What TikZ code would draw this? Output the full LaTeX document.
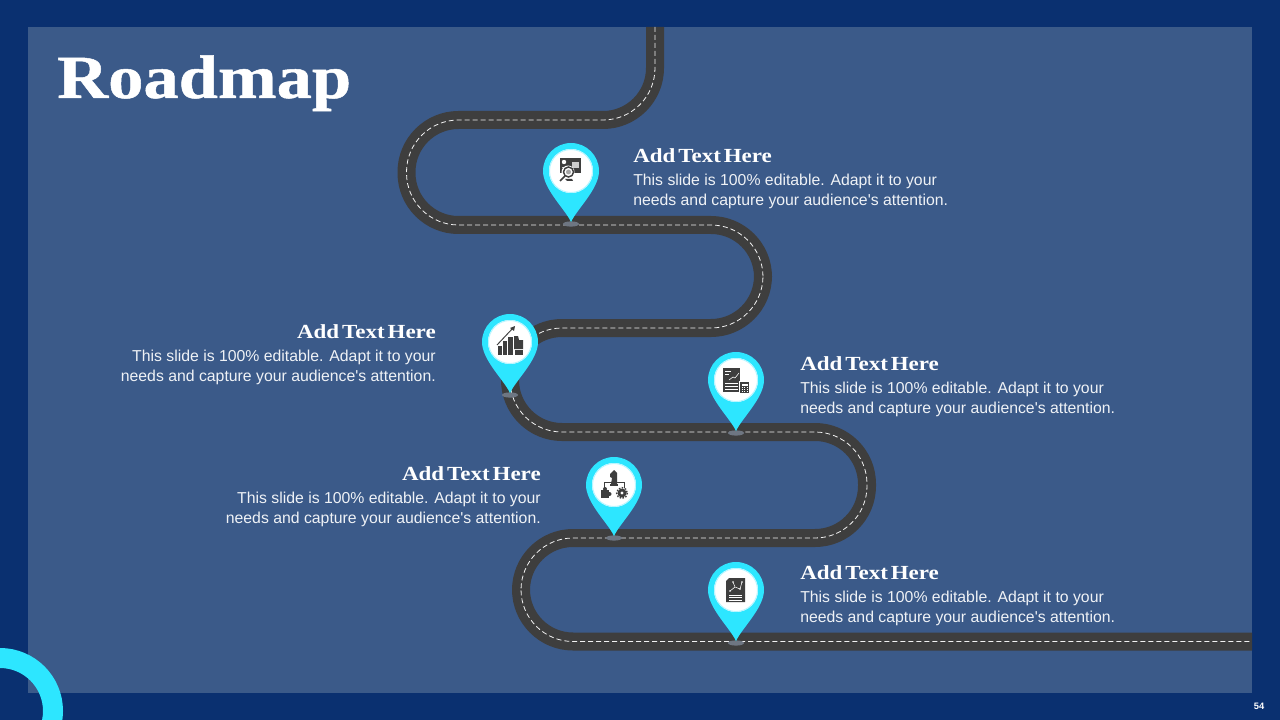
\documentclass[tikz,border=0pt]{standalone}
\usepackage{fontspec}
\setmainfont{Liberation Sans}
\newfontfamily\headfont{Liberation Serif}[FakeStretch=1.15, WordSpace=0.5]
\newfontfamily\titlefont{Liberation Serif}[FakeStretch=1.15, BoldFeatures={FakeBold=0.8}]
\usepackage{xcolor}
\usetikzlibrary{positioning}
\definecolor{frame}{HTML}{0A3070}
\definecolor{panel}{HTML}{3B5A89}
\definecolor{marker}{HTML}{2DE6FF}
\definecolor{asphalt}{HTML}{3E3E3E}
\tikzset{
  road/.style={draw=asphalt, line width=13.5pt, rounded corners=39pt},
  lane/.style={draw=white!90!gray, line width=0.6pt, rounded corners=39pt, dash pattern=on 3.75pt off 2.25pt},
  title/.style={font=\titlefont\bfseries\fontsize{46}{50}\selectfont, text=white, inner sep=0pt},
  headtxt/.style={font=\headfont\bfseries\fontsize{15}{18}\selectfont, text=white, inner sep=0pt},
  bodyleft/.style={font=\fontsize{11.85}{15}\selectfont, text=white!92!panel, align=left, inner sep=0pt},
  bodyright/.style={font=\fontsize{11.85}{15}\selectfont, text=white!92!panel, align=right, inner sep=0pt},
  icon/.style={fill=asphalt, draw=none},
  iconlight/.style={fill=white, draw=none},
  iconline/.style={draw=asphalt, line width=0.6pt},
  pinmark/.pic={
    \fill[gray!75!panel] (0,53) ellipse[x radius=8, y radius=2.6];
    \fill[marker] (0,51) .. controls (-6,38) and (-28,18) .. (-28,0) arc[start angle=180, end angle=360, radius=28] .. controls (28,18) and (6,38) .. (0,51) -- cycle;
    \fill[white] (0,0) circle[radius=22];
    \draw[marker!35!white, line width=0.7pt] (0,0) circle[radius=21.5];
  },
  iconboard/.pic={
    \fill[icon] (-11,-13) rectangle (10,2);
    \fill[iconlight] (-7,-9) circle[radius=2.2];
    \fill[gray!40] (1,-9) rectangle (8,-3);
    \fill[gray!40] (-9,-4) rectangle (-1,-3);
    \fill[white] (-3,1) circle[radius=6.5];
    \draw[asphalt, line width=1.1pt] (-2.5,1) circle[radius=5];
    \fill[gray!70] (-2.5,1) circle[radius=2.5];
    \draw[asphalt, line width=1.3pt] (-6,5) -- (-11,10);
    \fill[icon] (-6,8) -- (1,8) -- (2,10) -- (-4,10) -- cycle;
  },
  iconbars/.pic={
    \fill[icon] (-12,4) rectangle (-8,13);
    \fill[icon] (-7,-1) rectangle (-3,13);
    \fill[icon] (-2,-5) rectangle (3,13);
    \fill[icon] (4,-6) -- (8,-6) -- (9,-2) -- (13,-2) -- (13,7) -- (4,7) -- cycle;
    \fill[icon] (5,8) rectangle (13,13);
    \draw[asphalt, line width=0.7pt] (-13,3) -- (3,-14);
    \fill[icon] (5,-16) -- (0,-14) -- (4,-11) -- cycle;
  },
  iconcalc/.pic={
    \fill[icon] (-13,-12) rectangle (4,12);
    \fill[iconlight] (-11,-9) rectangle (-5,-8);
    \fill[iconlight] (-11,-6) rectangle (-7,-5);
    \draw[white, line width=0.4pt] (-7,0) -- (-3,-3) -- (-1,-2) -- (3,-7);
    \draw[white, line width=0.5pt] (-11,3) -- (2,3) (-11,6) -- (2,6) (-11,9) -- (2,9);
    \fill[white] (3,1) rectangle (14,14);
    \fill[icon] (4,2) rectangle (13,13);
    \fill[iconlight] (5.5,3.5) rectangle (11.5,5.5);
    \foreach \cx in {5.5,8,10.5}
      \foreach \cy in {7,9.2,11.2}
        \fill[iconlight] (\cx,\cy) rectangle ++(1.2,1.2);
  },
  iconchess/.pic={
    \draw[iconline] (-10,3) -- (-10,-3) -- (10,-3) -- (10,3);
    \fill[icon] (-4,-1) rectangle (4,1);
    \fill[icon] (-3,-1) -- (-2,-7) -- (-4,-8) -- (-4,-11) -- (0,-15) -- (3,-12) -- (3,-1) -- cycle;
    \fill[icon] (-13,5) rectangle (-5,13);
    \fill[icon] (-9,4) circle[radius=2];
    \fill[icon] (-4.5,9) circle[radius=2];
    \fill[icon] (8,8) circle[radius=4.5];
    \draw[asphalt, line width=1pt, dash pattern=on 1.2pt off 1.1pt] (8,8) circle[radius=5.4];
    \fill[white] (8,8) circle[radius=1.7];
  },
  iconplan/.pic={
    \fill[icon] (-10,-9) -- (-7,-12) -- (9,-12) -- (9,12) -- (-10,12) -- cycle;
    \draw[white, line width=0.4pt] (-6,1) -- (-1,-3) -- (-3,-8) (-1,-3) -- (4,-1) -- (6,-8);
    \foreach \cx/\cy in {-6/1,-3/-8,4/-1,6/-8}
      \fill[white] (\cx,\cy) circle[radius=0.9];
    \draw[white, line width=0.4pt] (-7,5) -- (6,5) (-7,7.5) -- (6,7.5) (-7,10) -- (6,10);
  },
}
\def\roadpath{(655,27) -- (655,120) -- (406.5,120) -- (406.5,225) -- (763,225) -- (763,328) -- (510,328) -- (510,432) -- (867,432) -- (867,538) -- (521,538) -- (521,641.5) -- (1252,641.5)}

\begin{document}
\begin{tikzpicture}[x=0.75pt, y=-0.75pt]
\useasboundingbox (0,0) rectangle (1280,720);
\fill[frame] (0,0) rectangle (1280,720);
\fill[panel] (28,27) rectangle (1252,693);
\begin{scope}
\clip (0,0) rectangle (1280,720);
\draw[marker, line width=15pt] (0,711) circle[radius=53];
\end{scope}
\node[title, anchor=base west] (roadmap) at (57,98) {Roadmap};
\node[font=\bfseries\fontsize{7}{8}\selectfont, text=white, inner sep=0pt] (pageno) at (1259,706) {54};
% road
\draw[road] \roadpath;
\draw[lane] \roadpath;
% markers
\pic (pinone) at (571,171) {pinmark};
\pic (iconone) at (571,171) {iconboard};
\pic (pintwo) at (510,342) {pinmark};
\pic (icontwo) at (510,342) {iconbars};
\pic (pinthree) at (736,380) {pinmark};
\pic (iconthree) at (736,380) {iconcalc};
\pic (pinfour) at (614,485) {pinmark};
\pic (iconfour) at (614,485) {iconchess};
\pic (pinfive) at (736,590) {pinmark};
\pic (iconfive) at (736,590) {iconplan};
% texts
\node[headtxt, anchor=west] (headone) at (633,155.5) {Add Text Here};
\node[bodyleft, below=8pt of headone.south west, anchor=north west] (bodyone) {This slide is 100\% editable. Adapt it to your\\needs and capture your audience\textquotesingle s attention.};
\node[headtxt, anchor=east] (headtwo) at (436,331.5) {Add Text Here};
\node[bodyright, below=8pt of headtwo.south east, anchor=north east] (bodytwo) {This slide is 100\% editable. Adapt it to your\\needs and capture your audience\textquotesingle s attention.};
\node[headtxt, anchor=west] (headthree) at (800,363.5) {Add Text Here};
\node[bodyleft, below=8pt of headthree.south west, anchor=north west] (bodythree) {This slide is 100\% editable. Adapt it to your\\needs and capture your audience\textquotesingle s attention.};
\node[headtxt, anchor=east] (headfour) at (541,473.5) {Add Text Here};
\node[bodyright, below=8pt of headfour.south east, anchor=north east] (bodyfour) {This slide is 100\% editable. Adapt it to your\\needs and capture your audience\textquotesingle s attention.};
\node[headtxt, anchor=west] (headfive) at (800,572.5) {Add Text Here};
\node[bodyleft, below=8pt of headfive.south west, anchor=north west] (bodyfive) {This slide is 100\% editable. Adapt it to your\\needs and capture your audience\textquotesingle s attention.};
\end{tikzpicture}
\end{document}
